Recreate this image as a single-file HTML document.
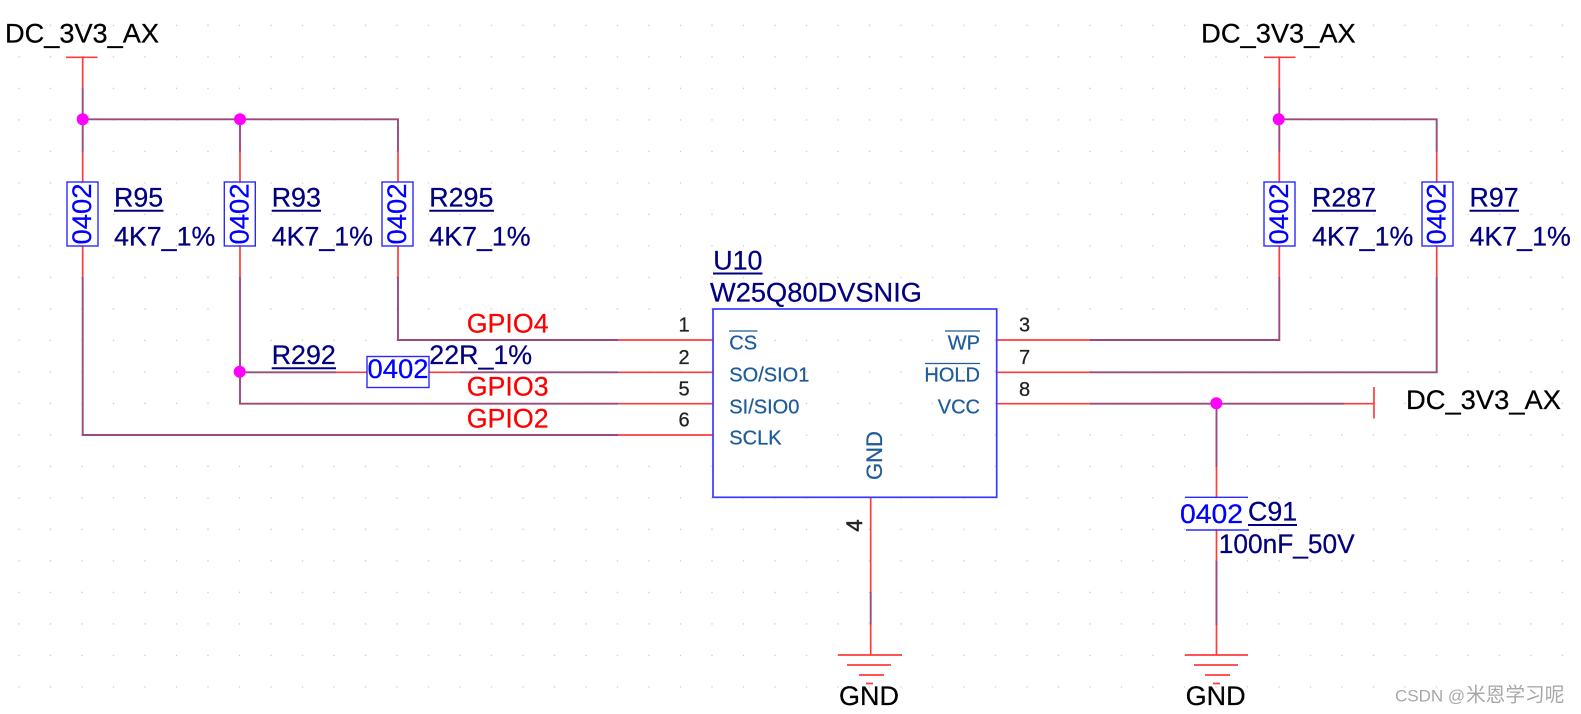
<!DOCTYPE html>
<html>
<head>
<meta charset="utf-8">
<style>
html,body{margin:0;padding:0;background:#fff;width:1581px;height:714px;overflow:hidden}
svg{display:block}
text{font-family:"Liberation Sans",sans-serif;font-size:26.8px;stroke-width:.25px}
.k{fill:#000;stroke:#000}
.n{fill:#000080;stroke:#000080}
.b{fill:#0000ff;stroke:#0000ff}
.r{fill:#ff0000;stroke:#ff0000}
.p{fill:#222;stroke:#222;font-size:20px;text-anchor:middle}
.s{fill:#1f5c99;stroke:#1f5c99;font-size:20px}
.e{text-anchor:end}
.red{fill:none;stroke:#ff3c3c;stroke-width:1.7}
.pur{fill:none;stroke:#9a4a7c;stroke-width:1.9}
.blu{fill:none;stroke:#2a2aff;stroke-width:1.4}
.nav{fill:none;stroke:#000080;stroke-width:2}
.ov{fill:none;stroke:#1f5c99;stroke-width:1.2}
.dot{fill:#ff00ff}
</style>
</head>
<body>
<svg width="1581" height="714" viewBox="0 0 1581 714" xmlns="http://www.w3.org/2000/svg">
<defs>
<pattern id="g" x="18" y="24.5" width="31.5" height="31.5" patternUnits="userSpaceOnUse">
<rect x="0.3" y="0.2" width="1.4" height="1.4" fill="#d0d0d0"/>
</pattern>
</defs>
<rect width="1581" height="714" fill="#fff"/>
<rect x="18" y="24" width="1548" height="665" fill="url(#g)"/>

<!-- red wires -->
<path class="red" d="M66 57.3H97.5M82.7 57.3V88.5M82.7 151.5V182M82.7 246V277M240 151.5V182M240 246V277M398 151.5V182M398 246V277
M1264 57.3H1295.5M1279.3 57.3V88.5M1279.3 151.5V182M1279.3 246V277M1436.7 151.5V182M1436.7 246V277
M336 372.3H367M429 372.3H460M618 340H713M618 372.3H713M618 403.7H713M618 435H713
M997 340H1090M997 372.3H1090M997 403.7H1090M1344 403.7H1374M1374 387V418.5
M870.7 497V592M870.7 624V655M838 655H902M847 665H891M859 675H884M866 683.5H873
M1216.5 467V497M1216.5 530V561M1216.5 625V655M1185 655H1248M1194 665H1238M1205 675H1230M1213 683.5H1220"/>

<!-- purple wires -->
<path class="pur" d="M82.7 88.5V151.5M82.7 119.3H398V151.5M240 119.3V151.5
M82.7 277V435H618M240 277V403.7H618M240 372.3H336M398 277V340H618M460 372.3H618
M1279.3 88.5V151.5M1279.3 119.3H1436.7V151.5M1279.3 277V340H1090M1436.7 277V372.3H1090
M1090 403.7H1344M1216.5 403.7V467M1216.5 561V625M870.7 592V624"/>

<!-- junctions -->
<circle class="dot" cx="82.7" cy="119.3" r="6"/>
<circle class="dot" cx="240" cy="119.3" r="6"/>
<circle class="dot" cx="239.7" cy="371.8" r="6"/>
<circle class="dot" cx="1278.7" cy="119.3" r="6"/>
<circle class="dot" cx="1216.3" cy="403.3" r="6"/>

<!-- resistor bodies -->
<rect class="blu" x="67" y="182" width="31" height="64"/>
<rect class="blu" x="224.3" y="182" width="31" height="64"/>
<rect class="blu" x="382" y="182" width="31" height="64"/>
<rect class="blu" x="1264" y="182" width="31" height="64"/>
<rect class="blu" x="1422" y="182" width="31" height="64"/>
<rect class="blu" x="367" y="356.5" width="62" height="31"/>
<path class="blu" d="M1185 497.3H1248M1186 530H1249"/>
<rect x="713" y="309" width="283.7" height="188.3" fill="none" stroke="#3a3aff" stroke-width="1.7"/>

<!-- 0402 labels -->
<text class="b" transform="translate(91 244.5) rotate(-90)" textLength="61" lengthAdjust="spacingAndGlyphs">0402</text>
<text class="b" transform="translate(248.5 244.5) rotate(-90)" textLength="61" lengthAdjust="spacingAndGlyphs">0402</text>
<text class="b" transform="translate(406 244.5) rotate(-90)" textLength="61" lengthAdjust="spacingAndGlyphs">0402</text>
<text class="b" transform="translate(1288 244.5) rotate(-90)" textLength="61" lengthAdjust="spacingAndGlyphs">0402</text>
<text class="b" transform="translate(1445.5 244.5) rotate(-90)" textLength="61" lengthAdjust="spacingAndGlyphs">0402</text>
<text class="b" x="367.5" y="378" textLength="61" lengthAdjust="spacingAndGlyphs">0402</text>
<text class="b" x="1180" y="523" textLength="63" lengthAdjust="spacingAndGlyphs">0402</text>

<!-- net/power labels -->
<text class="k" x="5" y="42.7" textLength="154" lengthAdjust="spacingAndGlyphs">DC_3V3_AX</text>
<text class="k" x="1201.2" y="42.7" textLength="154.5" lengthAdjust="spacingAndGlyphs">DC_3V3_AX</text>
<text class="k" x="1406" y="409" textLength="155" lengthAdjust="spacingAndGlyphs">DC_3V3_AX</text>
<text class="k" x="839" y="705" textLength="60" lengthAdjust="spacingAndGlyphs">GND</text>
<text class="k" x="1185.7" y="705" textLength="60" lengthAdjust="spacingAndGlyphs">GND</text>

<!-- refdes and values -->
<text class="n" x="114" y="206.7">R95</text>
<path class="nav" d="M114 210.7H163.5"/>
<text class="n" x="114" y="245.5">4K7_1%</text>
<text class="n" x="271.7" y="206.7">R93</text>
<path class="nav" d="M271.7 210.7H321"/>
<text class="n" x="271.7" y="245.5">4K7_1%</text>
<text class="n" x="429.3" y="206.7">R295</text>
<path class="nav" d="M429.3 210.7H494"/>
<text class="n" x="429.3" y="245.5">4K7_1%</text>
<text class="n" x="1312" y="206.7">R287</text>
<path class="nav" d="M1312 210.7H1376"/>
<text class="n" x="1312" y="245.5">4K7_1%</text>
<text class="n" x="1469.5" y="206.7">R97</text>
<path class="nav" d="M1469.5 210.7H1519"/>
<text class="n" x="1469.5" y="245.5">4K7_1%</text>
<text class="n" x="271.7" y="364">R292</text>
<path class="nav" d="M271.7 368.3H336"/>
<text class="n" x="429.3" y="364">22R_1%</text>
<text class="n" x="713.3" y="269.3">U10</text>
<path class="nav" d="M713 273.5H762.5"/>
<text class="n" x="710" y="301.7" textLength="212" lengthAdjust="spacingAndGlyphs">W25Q80DVSNIG</text>
<text class="n" x="1248" y="520.7">C91</text>
<path class="nav" d="M1248 525H1297"/>
<text class="n" x="1218.7" y="553" textLength="136" lengthAdjust="spacingAndGlyphs">100nF_50V</text>

<!-- GPIO -->
<text class="r" x="466.7" y="332.7">GPIO4</text>
<text class="r" x="466.7" y="395.7">GPIO3</text>
<text class="r" x="466.7" y="427.3">GPIO2</text>

<!-- pin numbers -->
<text class="p" x="684" y="331.7">1</text>
<text class="p" x="684" y="364">2</text>
<text class="p" x="684" y="395.7">5</text>
<text class="p" x="684" y="426.7">6</text>
<text class="p" x="1024.5" y="331.7">3</text>
<text class="p" x="1024.5" y="364">7</text>
<text class="p" x="1024.5" y="396">8</text>
<text class="p" style="font-size:22px;stroke-width:.5px" transform="translate(862 525.5) rotate(-90)">4</text>

<!-- pin names -->
<text class="s" x="729.3" y="349.3">CS</text>
<text class="s" x="729.3" y="381.7">SO/SIO1</text>
<text class="s" x="729.3" y="413.3">SI/SIO0</text>
<text class="s" x="729.3" y="444.3">SCLK</text>
<text class="s e" x="980" y="349.3">WP</text>
<text class="s e" x="980" y="381.7">HOLD</text>
<text class="s e" x="980" y="413.3">VCC</text>
<text class="s" style="font-size:22px" transform="translate(882 480) rotate(-90)">GND</text>
<path class="ov" d="M729 331H757.5M945 331H980M925 363.5H980"/>

<!-- watermark -->
<text x="1395" y="701.5" fill="#a8a8a8" style="font-size:17px">CSDN @</text>
<text x="1466" y="701.5" fill="#a8a8a8" style="font-family:'Liberation Sans','Noto Sans CJK SC',sans-serif;font-size:19.7px">米恩学习呢</text>
</svg>
</body>
</html>
